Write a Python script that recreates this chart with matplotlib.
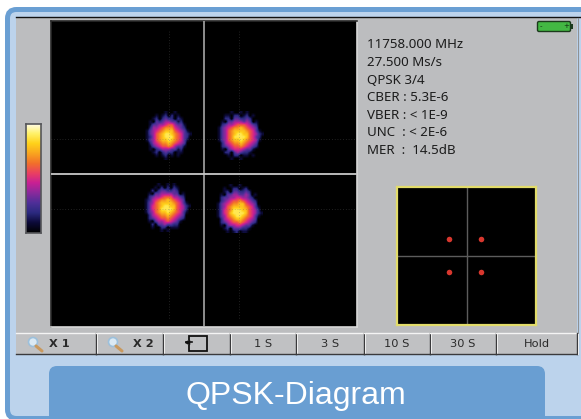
"""QPSK constellation screen of a satellite meter."""
import numpy as np
import matplotlib
matplotlib.use('Agg')
import matplotlib.pyplot as plt
from matplotlib.colors import LinearSegmentedColormap
from matplotlib.patches import FancyBboxPatch, Rectangle, Circle

W, H = 581, 419

# --- values ---
INFO_LINES = ['11758.000 MHz', '27.500 Ms/s', 'QPSK 3/4', 'CBER : 5.3E-6',
              'VBER : < 1E-9', 'UNC  : < 2E-6', 'MER  :  14.5dB']
BUTTON_LABELS = ['X 1', 'X 2', '', '1 S', '3 S', '10 S', '30 S', 'Hold']
CAPTION = 'QPSK-Diagram'

# cluster centres, I/Q normalised to the panel half width
CLUSTER_I = [-0.24, 0.23, -0.25, 0.22]
CLUSTER_Q = [0.25, 0.25, -0.22, -0.23]
CLUSTER_HALF = 0.157
GRATICULE = [-0.229, 0.229]

# density of each cluster on a 16 x 16 grid, one digit per cell (0-9)
CLUSTER_TL = ['0000000100100000', '0000101202010000', '0001202322021000', '0010323443312000',
              '0013344566433100', '0024456777543200', '0134567888654310', '0134678998765321',
              '0124678999765320', '0134678898765310', '0024567787654300', '0013456676433100',
              '0010234443312000', '0001202322011000', '0000101201010000', '0000000100000000']
CLUSTER_TR = ['0000010010100000', '0001102201201000', '0002203322320000', '0010334443430100',
              '0023445666543200', '0134567787654300', '0134678888765310', '0134678998865421',
              '0134679999865320', '0134678898765410', '0024567787654300', '0023456676543200',
              '0010345554331000', '0002203432210000', '0000102201101000', '0000010010000000']
CLUSTER_BL = ['0000010010100000', '0000102020210000', '0002023322320000', '0010334444330100',
              '0023445666443200', '0124567787654300', '0134678888765310', '0135678998865421',
              '0135679999865420', '0134678898765310', '0024567787654300', '0023456676543200',
              '0010344565431000', '0002033433220000', '0001002201110000', '0000001010000000']
CLUSTER_BR = ['0000010010000000', '0001002201200000', '0001203322320000', '0010334433430100',
              '0023344554432000', '0023456676543200', '0134567788654300', '0134678888765310',
              '0135679998865420', '0135689999865421', '0134678998765310', '0024567887654300',
              '0023456676543200', '0010344554331000', '0001203332210000', '0000101201100000']
CLUSTERS = [CLUSTER_TL, CLUSTER_TR, CLUSTER_BL, CLUSTER_BR]

# small reference constellation
REF_I = [-0.245, 0.215, -0.245, 0.215]
REF_Q = [0.245, 0.245, -0.23, -0.23]

# colour scale, bottom to top
SCALE_COLORS = ['#000000', '#0c0a38', '#2b2a80', '#4f2f98', '#8a2a9c', '#c92094',
                '#ea3f62', '#f2702a', '#f9a51f', '#ffd21a', '#fff26a', '#fffdf0']

FRAME = '#6a9fd3'
PALE = '#bcd3ec'
SCREEN = '#bcbdbf'

cmap = LinearSegmentedColormap.from_list('meter', SCALE_COLORS)


def px_axes(fig, x0, y0, x1, y1):
    """Axes placed with image pixel coordinates (y from the top)."""
    return fig.add_axes([x0 / W, 1 - y1 / H, (x1 - x0) / W, (y1 - y0) / H])


fig = plt.figure(figsize=(W / 100, H / 100), dpi=100, facecolor='white')

# ----- frame and chrome -----
bg = fig.add_axes([0, 0, 1, 1])
bg.set_xlim(0, W); bg.set_ylim(H, 0); bg.axis('off')
bg.add_patch(FancyBboxPatch((7.5, 9.5), W + 30, 409, boxstyle='round,pad=0,rounding_size=9',
                            fc=PALE, ec=FRAME, lw=3.6))
bg.add_patch(Rectangle((16, 18), 561, 315, fc=SCREEN, ec='none'))
bg.plot([16, 581], [17.5, 17.5], color='#111111', lw=1)
bg.plot([577.5, 577.5], [18, 354], color='#8f9193', lw=0.8)

# ----- buttons -----
edges = [16, 96, 163, 230, 296, 364, 430, 496, 577]
for i, label in enumerate(BUTTON_LABELS):
    x0, x1 = edges[i], edges[i + 1]
    bg.add_patch(Rectangle((x0, 333), x1 - x0, 21, fc='#c0c1c3', ec='none'))
    bg.plot([x0, x1], [333, 333], color='#f4f4f4', lw=1)
    bg.plot([x0, x1], [354, 354], color='#3a3a3c', lw=1)
    bg.plot([x1, x1], [333, 354], color='#3a3a3c', lw=1)
    bg.plot([x1 + 1, x1 + 1], [334, 354], color='#f0f0f0', lw=0.7)
    tx = {0: 59, 1: 143}.get(i, (x0 + x1) / 2)
    bg.text(tx, 343.5, label, ha='center', va='center', fontsize=8.2, color='#2a2a2a',
            family='DejaVu Sans', weight='bold' if i < 2 else 'normal')
for cx in [33, 113]:
    bg.plot([cx + 3, cx + 9], [346, 351], color='#c9995e', lw=2.2, solid_capstyle='round')
    bg.add_patch(Circle((cx, 342), 4.5, fc='#dbe9f3', ec='#9cc0dc', lw=1.2))
# back icon
bg.add_patch(Rectangle((188.5, 335.5), 18, 15, fc='none', ec='#111111', lw=1.3))
bg.add_patch(Rectangle((183, 340), 9, 5, fc='#c0c1c3', ec='none'))
bg.plot([186, 192], [342, 342], color='#111111', lw=1.2)
bg.plot([187], [342], marker='<', ms=3, color='#111111')

# ----- caption tab -----
bg.add_patch(FancyBboxPatch((49, 366), 496, 70, boxstyle='round,pad=0,rounding_size=8',
                            fc='#699ed2', ec='none'))
bg.text(296, 396, CAPTION, ha='center', va='center', color='white', fontsize=23,
        family='Liberation Sans')

# ----- info text -----
for i, line in enumerate(INFO_LINES):
    bg.text(367, 45 + i * 17.5, line, ha='left', va='center', fontsize=9.6,
            color='#1c1c1c', family='Noto Sans')

# ----- battery -----
bg.add_patch(FancyBboxPatch((537.5, 21.5), 33, 10, boxstyle='round,pad=0,rounding_size=1.5',
                            fc='#43b843', ec='#1c3a1c', lw=1))
bg.add_patch(Rectangle((571, 24), 1.5, 5, fc='#1c3a1c', ec='none'))
bg.text(541, 26, '-', ha='center', va='center', fontsize=5, color='#123012')
bg.text(566, 26, '+', ha='center', va='center', fontsize=5, color='#123012')

# ----- colour scale -----
bar = px_axes(fig, 26, 124, 41, 233)
bar.imshow(np.linspace(1, 0, 128)[:, None], cmap=cmap, aspect='auto', vmin=0, vmax=1)
bar.set_xticks([]); bar.set_yticks([])
for s in bar.spines.values():
    s.set_color('#55565a'); s.set_linewidth(1.2)

# ----- main constellation panel -----
ax = px_axes(fig, 51, 21, 357, 327)
ax.set_facecolor('black')
for i, q, grid in zip(CLUSTER_I, CLUSTER_Q, CLUSTERS):
    z = np.array([[int(c) for c in row] for row in grid], dtype=float)
    ax.imshow(z, cmap=cmap, vmin=0, vmax=10.2, interpolation='bilinear', aspect='auto', zorder=2,
              extent=[i - CLUSTER_HALF, i + CLUSTER_HALF, q - CLUSTER_HALF, q + CLUSTER_HALF])
ax.set_xlim(-1, 1); ax.set_ylim(-1, 1)
for g in GRATICULE:
    ax.axvline(g, ymin=0.03, ymax=0.97, color='#6a6a6a', lw=0.5, ls=(0, (1, 3)), alpha=0.6, zorder=3)
    ax.axhline(g, color='#6a6a6a', lw=0.5, ls=(0, (1, 3)), alpha=0.6, zorder=3)
ax.axvline(0, color='#b5b5b5', lw=1.1, zorder=4)
ax.axhline(0, color='#c8c8c8', lw=1.3, zorder=4)
ax.set_xticks([]); ax.set_yticks([])
for s in ax.spines.values():
    s.set_color('#d8d8d8'); s.set_linewidth(1.2)
ax.spines['left'].set_color('#2a2a2a')
ax.spines['top'].set_color('#2a2a2a')

# ----- reference constellation -----
ref = px_axes(fig, 397, 187, 536, 325)
ref.set_facecolor('black')
ref.set_xlim(-1, 1); ref.set_ylim(-1, 1)
ref.axvline(0, color='#5c5c5c', lw=1)
ref.axhline(0, color='#5c5c5c', lw=1)
ref.scatter(REF_I, REF_Q, s=16, color='#d8372e', zorder=3, linewidths=0)
ref.set_xticks([]); ref.set_yticks([])
for s in ref.spines.values():
    s.set_color('#e2dc6a'); s.set_linewidth(1.6)

fig.savefig('out.png', dpi=100)
